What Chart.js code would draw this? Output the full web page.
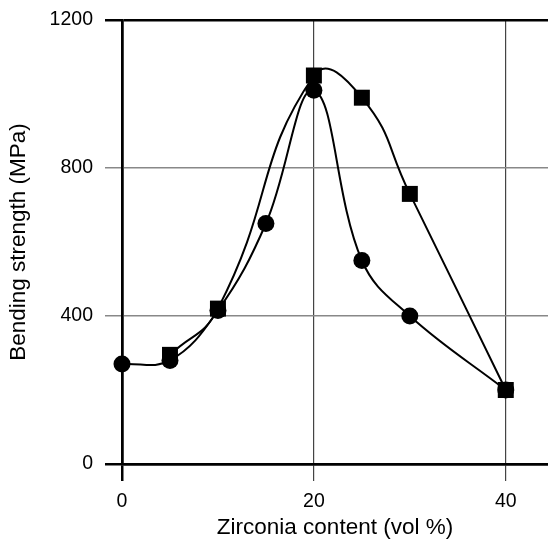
<!DOCTYPE html>
<html>
<head>
<meta charset="utf-8">
<script src="https://cdn.jsdelivr.net/npm/chart.js@4"></script>
<style>
  html, body { margin: 0; padding: 0; background: #fff; }
</style>
</head>
<body>
<canvas id="chart" width="548" height="545"></canvas>
<script>
// zirconia content (vol %) vs bending strength (MPa)
const circleX = [0, 5, 10, 15, 20, 25, 30, 40];
const circleY = [270, 280, 415, 650, 1010, 550, 400, 200];
const squareX = [5, 10, 20, 25, 30, 40];
const squareY = [295, 420, 1050, 990, 730, 200];
const xTicks = [0, 20, 40];
const yTicks = [0, 400, 800, 1200];

function toPoints(xs, ys) {
    return xs.map((x, i) => ({ x: x, y: ys[i] }));
}

const tickFont = { family: 'Liberation Sans, Arial, sans-serif', size: 19.5 };
const titleFont = { family: 'Liberation Sans, Arial, sans-serif', size: 22.5 };

new Chart(document.getElementById('chart'), {
    type: 'scatter',
    data: {
        datasets: [{
            data: toPoints(circleX, circleY),
            showLine: true,
            tension: 0.4,
            borderColor: '#000',
            borderWidth: 2,
            pointStyle: 'circle',
            pointRadius: 8.5,
            pointBackgroundColor: '#000',
            pointBorderWidth: 0,
            clip: false
        }, {
            data: toPoints(squareX, squareY),
            showLine: true,
            tension: 0.5,
            borderColor: '#000',
            borderWidth: 2,
            pointStyle: 'rect',
            pointRadius: 11.3,
            pointBackgroundColor: '#000',
            pointBorderWidth: 0,
            clip: false
        }]
    },
    options: {
        responsive: false,
        animation: false,
        layout: { autoPadding: false, padding: { top: 20, right: 0, left: 0, bottom: 0 } },
        plugins: {
            legend: { display: false },
            tooltip: { enabled: false }
        },
        scales: {
            x: {
                type: 'linear',
                min: 0,
                max: 44.4,
                afterBuildTicks: scale => {
                    scale.ticks = xTicks.map(v => ({ value: v }));
                },
                afterFit: scale => {
                    scale.height = 81;
                    scale.paddingLeft = 0;
                    scale.paddingRight = 0;
                },
                ticks: { color: '#000', font: tickFont, padding: 9, maxRotation: 0 },
                grid: {
                    tickLength: 17,
                    color: ctx => ctx.tick && ctx.tick.value === 0 ? '#000' : '#444',
                    lineWidth: ctx => ctx.tick && ctx.tick.value === 0 ? 2.5 : 1.2
                },
                border: { color: '#000', width: 2.5 },
                title: {
                    display: true,
                    text: 'Zirconia content (vol %)',
                    color: '#000',
                    font: titleFont,
                    padding: { top: 4, bottom: 4 }
                }
            },
            y: {
                min: 0,
                max: 1200,
                afterBuildTicks: scale => {
                    scale.ticks = yTicks.map(v => ({ value: v }));
                },
                afterFit: scale => {
                    scale.width = 122;
                    scale.paddingTop = 0;
                },
                ticks: {
                    color: '#000',
                    font: tickFont,
                    padding: 12,
                    callback: v => String(v)
                },
                grid: {
                    tickLength: 17,
                    color: ctx => ctx.tick && (ctx.tick.value === 0 || ctx.tick.value === 1200) ? '#000' : '#888',
                    lineWidth: ctx => ctx.tick && (ctx.tick.value === 0 || ctx.tick.value === 1200) ? 2.5 : 1.5
                },
                border: { color: '#000', width: 2.5 },
                title: {
                    display: true,
                    text: 'Bending strength (MPa)',
                    color: '#000',
                    font: titleFont,
                    padding: { top: 5, bottom: 4 }
                }
            }
        }
    }
});
</script>
</body>
</html>
